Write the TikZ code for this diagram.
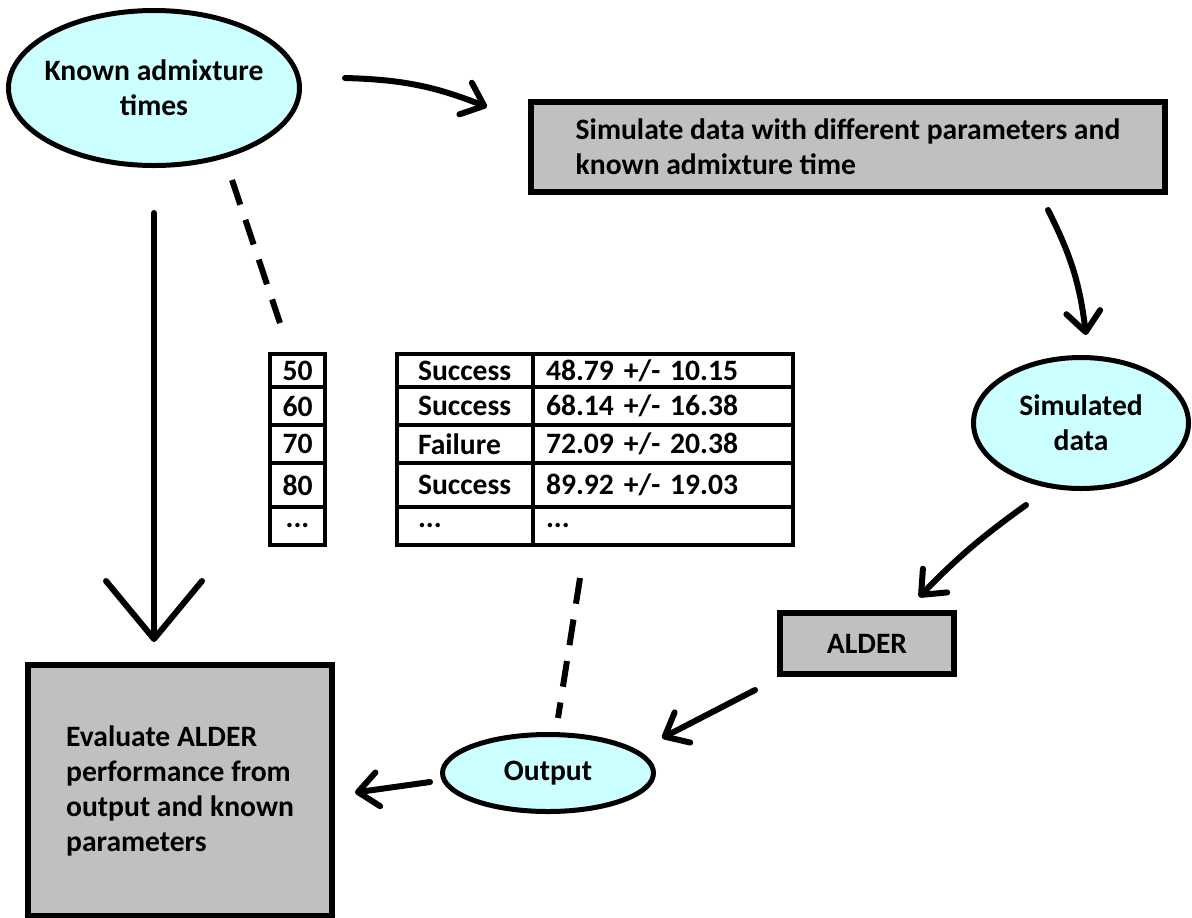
\documentclass[tikz,border=0pt]{standalone}
\usepackage{fontspec}
\setmainfont{Carlito}
\usetikzlibrary{arrows.meta,positioning,shapes.geometric,calc}
\definecolor{bubbleCyan}{HTML}{CCFFFF}
\definecolor{boxGrey}{HTML}{C0C0C0}
\newcommand{\diagfont}{\fontsize{14.8}{17.5}\selectfont\bfseries}
\tikzset{
  bubble/.style={ellipse, draw=black, line width=2.5pt, fill=bubbleCyan, align=center, inner sep=0pt, font=\diagfont},
  procbox/.style={draw=black, line width=3pt, fill=boxGrey, align=left, inner sep=0pt, font=\diagfont},
  cell/.style={draw=black, line width=2pt, outer sep=0pt, inner ysep=0pt, font=\diagfont},
  numcell/.style={cell, minimum width=27.5pt, inner xsep=0pt, minimum height=#1},
  statcell/.style={cell, text width=47pt, inner xsep=10.5pt, align=left, minimum height=#1},
  valcell/.style={cell, text width=117pt, inner xsep=6.5pt, align=left, minimum height=#1},
  arr/.style={-{Straight Barb[length=10pt,width=17pt,round]}, line width=3pt, line cap=round},
  bigarr/.style={arr, -{Straight Barb[length=29pt,width=48pt,round]}},
  dashlink/.style={line width=3pt, dash pattern=on 13pt off 8pt},
}
\begin{document}
\begin{tikzpicture}[x=0.5pt,y=-0.5pt]
\useasboundingbox (0,0) rectangle (1192,917);
% process boxes and data bubbles
\node[bubble, inner xsep=-6pt, minimum width=145.5pt, minimum height=77.5pt] (known) at (154,88) {Known admixture\\times};
\node[procbox, minimum width=317pt, minimum height=45pt] (sim) at (848,147) {Simulate data with different parameters and\\known admixture time};
\node[bubble, minimum width=107.5pt, minimum height=65.5pt] (simdata) at (1081,423) {Simulated\\data};
\node[procbox, minimum width=87pt, minimum height=30.5pt] (alder) at (867,643.5) {ALDER};
\node[bubble, minimum width=105.5pt, minimum height=38.5pt] (output) at (548,773) {Output};
\node[procbox, minimum width=152pt, minimum height=125.5pt] (eval) at (180,790.5) {Evaluate ALDER\\performance from\\output and known\\parameters};

% admixture times
\node[numcell=16.5pt] (n1) at (297.5,370.5) {50};
\node[numcell=19pt, below=0pt of n1] (n2) {60};
\node[numcell=19pt, below=0pt of n2] (n3) {70};
\node[numcell=22pt, below=0pt of n3] (n4) {80};
\node[numcell=19pt, below=0pt of n4] (n5) {...};

% results
\node[statcell=16.5pt] (s1) at (465,370.5) {Success};
\node[valcell=16.5pt, right=0pt of s1] (v1) {48.79 +/- 10.15};
\node[statcell=19pt, below=0pt of s1] (s2) {Success};
\node[valcell=19pt, right=0pt of s2] (v2) {68.14 +/- 16.38};
\node[statcell=19pt, below=0pt of s2] (s3) {Failure};
\node[valcell=19pt, right=0pt of s3] (v3) {72.09 +/- 20.38};
\node[statcell=22pt, below=0pt of s3] (s4) {Success};
\node[valcell=22pt, right=0pt of s4] (v4) {89.92 +/- 19.03};
\node[statcell=19pt, below=0pt of s4] (s5) {...};
\node[valcell=19pt, right=0pt of s5] (v5) {...};

% flow
\draw[arr] ($(known.east)+(43,-10)$) to[bend left=10] ($(sim.north west)+(-41,8)$);
\draw[bigarr] ($(known.south)+(0,45)$) -- ($(known.south |- eval.north)+(0,-20)$);
\draw[dashlink] ($(known.south)+(78,12)$) -- ($(n1.north west)+(10,-31)$);
\draw[arr] ($(sim.south east)+(-120,15)$) to[bend left=10] ($(simdata.north)+(5,-20)$);
\draw[arr] ($(simdata.south)+(-55,14)$) to[bend right=5] ($(alder.north east)+(-38,-13)$);
\draw[arr] ($(alder.south west)+(-22,13)$) -- ($(output.east)+(6,-35)$);
\draw[arr] ($(output.west)+(-10,9)$) -- ($(eval.east)+(20,2)$);
\draw[dashlink] ($(v5.south west)+(47,33)$) -- ($(output.north)+(10,-14)$);
\end{tikzpicture}
\end{document}
